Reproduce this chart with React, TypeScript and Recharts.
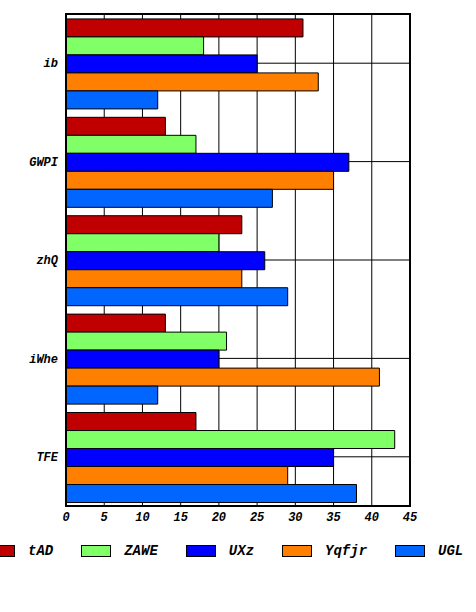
import { Bar, BarChart, CartesianGrid, XAxis, YAxis } from "recharts"

const categories = ["ib", "GWPI", "zhQ", "iWhe", "TFE"]
const tAD = [31, 13, 23, 13, 17]
const ZAWE = [18, 17, 20, 21, 43]
const UXz = [25, 37, 26, 20, 35]
const Yqfjr = [33, 35, 23, 41, 29]
const UGL = [12, 27, 29, 12, 38]
const xTicks = [0, 5, 10, 15, 20, 25, 30, 35, 40, 45]

const series = [
  { key: "tAD", color: "#c00000" },
  { key: "ZAWE", color: "#80ff66" },
  { key: "UXz", color: "#0000ff" },
  { key: "Yqfjr", color: "#ff8000" },
  { key: "UGL", color: "#0066ff" },
]

const data = categories.map((name, i) => ({
  name,
  tAD: tAD[i],
  ZAWE: ZAWE[i],
  UXz: UXz[i],
  Yqfjr: Yqfjr[i],
  UGL: UGL[i],
}))

const font = "'Liberation Mono', monospace"
const tickStyle = { fontFamily: font, fontSize: 12, fontWeight: "bold", fontStyle: "italic", fill: "#000" }

export default function App() {
  return (
    <div style={{ position: "absolute", left: 0, top: 0, width: 476, height: 612, background: "#fff", overflow: "hidden" }}>
      <BarChart
        width={476}
        height={530}
        data={data}
        layout="vertical"
        margin={{ top: 14, right: 66, left: 0, bottom: 4 }}
        barCategoryGap="5%"
        barGap={0}
      >
        <CartesianGrid stroke="#000" strokeWidth={1} />
        <XAxis
          type="number"
          domain={[0, 45]}
          ticks={xTicks}
          height={20}
          axisLine={false}
          tickLine={false}
          tick={tickStyle}
          tickMargin={0}
          interval={0}
        />
        <YAxis type="category" dataKey="name" width={66} axisLine={false} tickLine={false} tick={tickStyle} tickMargin={2} />
        {series.map((s) => (
          <Bar key={s.key} dataKey={s.key} fill={s.color} stroke="#000" strokeWidth={1} isAnimationActive={false} />
        ))}
      </BarChart>
      <div
        style={{
          position: "absolute",
          left: 65,
          top: 13,
          width: 342,
          height: 490,
          border: "2px solid #000",
          pointerEvents: "none",
        }}
      />
      <div
        style={{
          position: "absolute",
          left: -15,
          top: 543,
          display: "flex",
          whiteSpace: "nowrap",
          fontFamily: font,
          fontSize: 14,
          fontWeight: "bold",
          fontStyle: "italic",
        }}
      >
        {series.map((s) => (
          <div key={s.key} style={{ display: "flex", alignItems: "center", marginRight: 28 }}>
            <div style={{ width: 28, height: 10, background: s.color, border: "1px solid #000", marginRight: 13 }} />
            <span>{s.key}</span>
          </div>
        ))}
      </div>
    </div>
  )
}
